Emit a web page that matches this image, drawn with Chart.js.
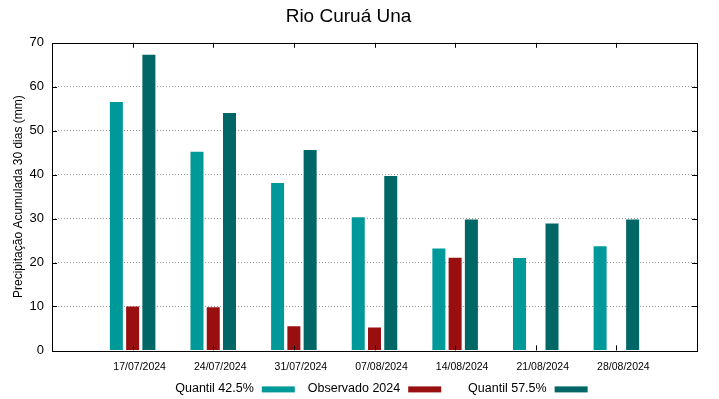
<!DOCTYPE html>
<html>
<head>
<meta charset="utf-8">
<script src="https://cdn.jsdelivr.net/npm/chart.js@4.4.1/dist/chart.umd.min.js"></script>
<style>
  html, body { margin: 0; padding: 0; background: #fff; }
  #wrap { width: 719px; height: 399px; }
</style>
</head>
<body>
<div id="wrap"><canvas id="chart" width="719" height="399"></canvas></div>
<script>
const FONT = "'Liberation Sans', Arial, sans-serif";

const TITLE = "Rio Curuá Una";
const Y_TITLE = "Precipitação Acumulada 30 dias (mm)";
const DATES = ["17/07/2024", "24/07/2024", "31/07/2024", "07/08/2024", "14/08/2024", "21/08/2024", "28/08/2024"];
const QUANTIL_425 = [56.5, 45.2, 38.1, 30.3, 23.2, 21.0, 23.7];
const OBSERVADO_2024 = [10.0, 9.8, 5.5, 5.2, 21.1, null, null];
const QUANTIL_575 = [67.3, 54.0, 45.6, 39.7, 29.8, 28.9, 29.8];
const Y_MIN = 0, Y_MAX = 70, Y_STEP = 10;

const COLORS = ["#009999", "#990f0f", "#006666"];

function toPoints(values) {
  return values.map((v, i) => ({ x: i, y: v }));
}

// moldura do gráfico + marcas de escala voltadas para dentro (estilo gnuplot)
const framePlugin = {
  id: "frame",
  afterDatasetsDraw(chart) {
    const { ctx, chartArea: a, scales } = chart;
    const tick = 5;
    ctx.save();
    ctx.strokeStyle = "#000";
    ctx.lineWidth = 1;
    ctx.beginPath();
    for (let v = Y_MIN + Y_STEP; v < Y_MAX; v += Y_STEP) {
      const y = Math.round(scales.y.getPixelForValue(v)) + 0.5;
      ctx.moveTo(a.left, y); ctx.lineTo(a.left + tick, y);
      ctx.moveTo(a.right, y); ctx.lineTo(a.right - tick, y);
    }
    DATES.forEach((_, i) => {
      const x = Math.round(scales.x.getPixelForValue(i)) + 0.5;
      ctx.moveTo(x, a.bottom); ctx.lineTo(x, a.bottom - tick);
      ctx.moveTo(x, a.top); ctx.lineTo(x, a.top + tick);
    });
    ctx.stroke();
    ctx.strokeRect(Math.round(a.left) + 0.5, Math.round(a.top) + 0.5,
      Math.round(a.right - a.left), Math.round(a.bottom - a.top));
    ctx.restore();
  },
};

// legenda em colunas: texto alinhado à direita, amostra depois do texto
const keyPlugin = {
  id: "key",
  afterDraw(chart) {
    const { ctx, chartArea: a } = chart;
    const sets = chart.data.datasets;
    const sampleW = 33, sampleH = 6, gap = 8, spacing = 13;
    ctx.save();
    ctx.font = "12.5px " + FONT;
    const maxW = Math.max(...sets.map((d) => ctx.measureText(d.label).width));
    const colW = maxW + gap + sampleW + spacing;
    const total = colW * sets.length - spacing;
    const start = (a.left + a.right) / 2 - total / 2;
    const y = a.bottom + 38;
    ctx.textAlign = "right";
    ctx.textBaseline = "middle";
    sets.forEach((d, i) => {
      const textEnd = start + i * colW + maxW;
      ctx.fillStyle = "#000";
      ctx.fillText(d.label, textEnd, y);
      ctx.fillStyle = d.backgroundColor;
      ctx.fillRect(textEnd + gap, y + 1 - sampleH / 2, sampleW, sampleH);
    });
    ctx.restore();
  },
};

new Chart(document.getElementById("chart"), {
  type: "bar",
  data: {
    datasets: [
      { label: "Quantil 42.5%", data: toPoints(QUANTIL_425), backgroundColor: COLORS[0] },
      { label: "Observado 2024", data: toPoints(OBSERVADO_2024), backgroundColor: COLORS[1] },
      { label: "Quantil 57.5%", data: toPoints(QUANTIL_575), backgroundColor: COLORS[2] },
    ],
  },
  options: {
    responsive: false,
    animation: false,
    categoryPercentage: 0.605,
    barPercentage: 0.8,
    layout: { padding: { left: 0, right: 22, top: 0, bottom: 16 } },
    plugins: {
      legend: { display: false },
      tooltip: { enabled: false },
      title: {
        display: true,
        text: TITLE,
        color: "#000",
        font: { family: FONT, size: 19, weight: "normal" },
        padding: { top: 5, bottom: 15 },
      },
    },
    scales: {
      x: {
        type: "linear",
        offset: false,
        min: -1,
        max: DATES.length,
        grid: { display: false, drawTicks: false },
        border: { display: false },
        ticks: {
          stepSize: 1,
          autoSkip: false,
          maxRotation: 0,
          padding: 10,
          labelOffset: 7,
          color: "#000",
          font: { family: FONT, size: 10.5 },
          callback: (v) => DATES[v] ?? "",
        },
      },
      y: {
        min: Y_MIN,
        max: Y_MAX,
        afterFit: (s) => { s.width = 52; },
        grid: {
          drawTicks: false,
          color: (c) => (c.tick.value === Y_MIN || c.tick.value === Y_MAX ? "rgba(0,0,0,0)" : "#999"),
        },
        border: { display: false, dash: [1, 2] },
        ticks: {
          stepSize: Y_STEP,
          padding: 8,
          color: "#000",
          font: { family: FONT, size: 13 },
        },
        title: {
          display: true,
          text: Y_TITLE,
          color: "#000",
          font: { family: FONT, size: 12 },
          padding: { top: 11, bottom: 0 },
        },
      },
    },
  },
  plugins: [framePlugin, keyPlugin],
});
</script>
</body>
</html>
